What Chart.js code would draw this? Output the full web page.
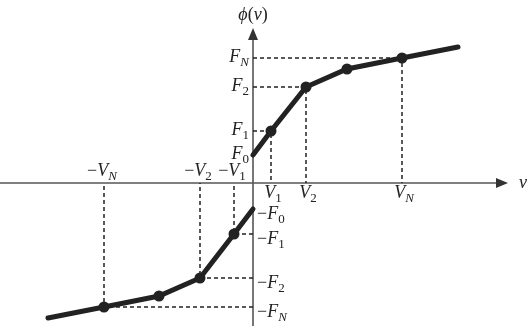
<!DOCTYPE html>
<html>
<head>
<meta charset="utf-8">
<script src="https://cdn.jsdelivr.net/npm/chart.js@4/dist/chart.umd.min.js"></script>
<style>
  html, body { margin: 0; padding: 0; background: #fff; }
</style>
</head>
<body>
<canvas id="chart" width="529" height="326"></canvas>
<script>
// piecewise-linear phi(v) (odd-ish symmetric)
const posV   = [0, 18, 53, 94, 149, 205];
const posPhi = [28, 52, 96, 114, 125, 136];
const negV   = [0, -19, -53, -94, -149, -205];
const negPhi = [-26, -51, -95, -113, -124, -135];

// which breakpoints get dashed guides / tick labels
const guideIdx = [1, 2, 4];
const vSubs = ['1', '2', 'N'];
const fIdx  = [0, 1, 2, 4];
const fSubs = ['0', '1', '2', 'N'];

const INK = '#222';
const AXIS = '#555';

function toPts(xs, ys) {
  return xs.map((x, i) => ({ x: x, y: ys[i] }));
}

// dashed guides: (0,f) -> (v,f) -> (v,0), broken by gaps
function guides(xs, ys) {
  const out = [];
  guideIdx.forEach(i => {
    out.push({ x: 0, y: ys[i] }, { x: xs[i], y: ys[i] }, { x: xs[i], y: 0 }, { x: xs[i], y: null });
  });
  return out;
}

function markerRadii(n) {
  return Array.from({ length: n }, (_, i) => (i === 0 || i === n - 1) ? 0 : 5.5);
}

// subscript: digits upright, letters italic
function sub(s) {
  return [s, /\d/.test(s) ? 'sr' : 's'];
}

// draw a little math label: runs of [text, kind]
function drawMath(ctx, runs, x, y, align) {
  const fonts = {
    i: 'italic 18px "Liberation Serif"',
    r: '18px "Liberation Serif"',
    s: 'italic 13px "Liberation Serif"',
    sr: '13px "Liberation Serif"'
  };
  let w = 0;
  runs.forEach(r => { ctx.font = fonts[r[1]]; w += ctx.measureText(r[0]).width; });
  let cx = x;
  if (align === 'center') cx = x - w / 2;
  if (align === 'right') cx = x - w;
  ctx.fillStyle = INK;
  ctx.textBaseline = 'alphabetic';
  ctx.textAlign = 'left';
  runs.forEach(r => {
    ctx.font = fonts[r[1]];
    const isSub = r[1] === 's' || r[1] === 'sr';
    ctx.fillText(r[0], cx, isSub ? y + 4 : y);
    cx += ctx.measureText(r[0]).width;
  });
}

const axesPlugin = {
  id: 'axesPlugin',
  beforeDatasetsDraw(chart) {
    const ctx = chart.ctx;
    const xs = chart.scales.x, ys = chart.scales.y;
    const ox = xs.getPixelForValue(0), oy = ys.getPixelForValue(0);
    const xEnd = 508, yTop = 28;
    ctx.save();
    ctx.strokeStyle = AXIS;
    ctx.fillStyle = '#333';
    ctx.lineWidth = 1.6;
    ctx.beginPath();
    ctx.moveTo(0, oy); ctx.lineTo(xEnd - 8, oy);
    ctx.moveTo(ox, chart.height); ctx.lineTo(ox, yTop + 8);
    ctx.stroke();
    // arrow heads
    ctx.beginPath();
    ctx.moveTo(xEnd, oy); ctx.lineTo(xEnd - 12, oy - 5); ctx.lineTo(xEnd - 12, oy + 5); ctx.closePath();
    ctx.fill();
    ctx.beginPath();
    ctx.moveTo(ox, yTop); ctx.lineTo(ox - 5, yTop + 12); ctx.lineTo(ox + 5, yTop + 12); ctx.closePath();
    ctx.fill();
    ctx.restore();
  },
  afterDatasetsDraw(chart) {
    const ctx = chart.ctx;
    const xs = chart.scales.x, ys = chart.scales.y;
    const ox = xs.getPixelForValue(0), oy = ys.getPixelForValue(0);
    ctx.save();
    drawMath(ctx, [['\u03D5', 'i'], ['(', 'r'], ['v', 'i'], [')', 'r']], ox, 20, 'center');
    drawMath(ctx, [['v', 'i']], 519, oy + 5, 'left');
    guideIdx.forEach((i, k) => {
      drawMath(ctx, [['V', 'i'], sub(vSubs[k])], xs.getPixelForValue(posV[i]) + 2, oy + 15, 'center');
      drawMath(ctx, [['\u2212', 'r'], ['V', 'i'], sub(vSubs[k])], xs.getPixelForValue(negV[i]) - 2, oy - 7, 'center');
    });
    fIdx.forEach((i, k) => {
      drawMath(ctx, [['F', 'i'], sub(fSubs[k])], ox - 4, ys.getPixelForValue(posPhi[i]) + 4, 'right');
      drawMath(ctx, [['\u2212', 'r'], ['F', 'i'], sub(fSubs[k])], ox + 4, ys.getPixelForValue(negPhi[i]) + 10, 'left');
    });
    ctx.restore();
  }
};

new Chart(document.getElementById('chart').getContext('2d'), {
  type: 'scatter',
  data: {
    datasets: [
      {
        data: guides(posV, posPhi),
        showLine: true, spanGaps: false,
        borderColor: '#222', borderWidth: 1.5, borderDash: [4, 3],
        pointRadius: 0
      },
      {
        data: guides(negV, negPhi),
        showLine: true, spanGaps: false,
        borderColor: '#222', borderWidth: 1.5, borderDash: [4, 3],
        pointRadius: 0
      },
      {
        data: toPts(posV, posPhi),
        showLine: true,
        borderColor: INK, backgroundColor: INK, borderWidth: 5,
        borderCapStyle: 'round',
        pointRadius: markerRadii(posV.length), pointBorderWidth: 0
      },
      {
        data: toPts(negV, negPhi),
        showLine: true,
        borderColor: INK, backgroundColor: INK, borderWidth: 5,
        borderCapStyle: 'round',
        pointRadius: markerRadii(negV.length), pointBorderWidth: 0
      }
    ]
  },
  options: {
    responsive: false,
    animation: false,
    layout: { padding: 0 },
    plugins: { legend: { display: false }, tooltip: { enabled: false } },
    scales: {
      x: { type: 'linear', display: false, min: -253, max: 276 },
      y: { type: 'linear', display: false, min: -143, max: 183 }
    }
  },
  plugins: [axesPlugin]
});
</script>
</body>
</html>
